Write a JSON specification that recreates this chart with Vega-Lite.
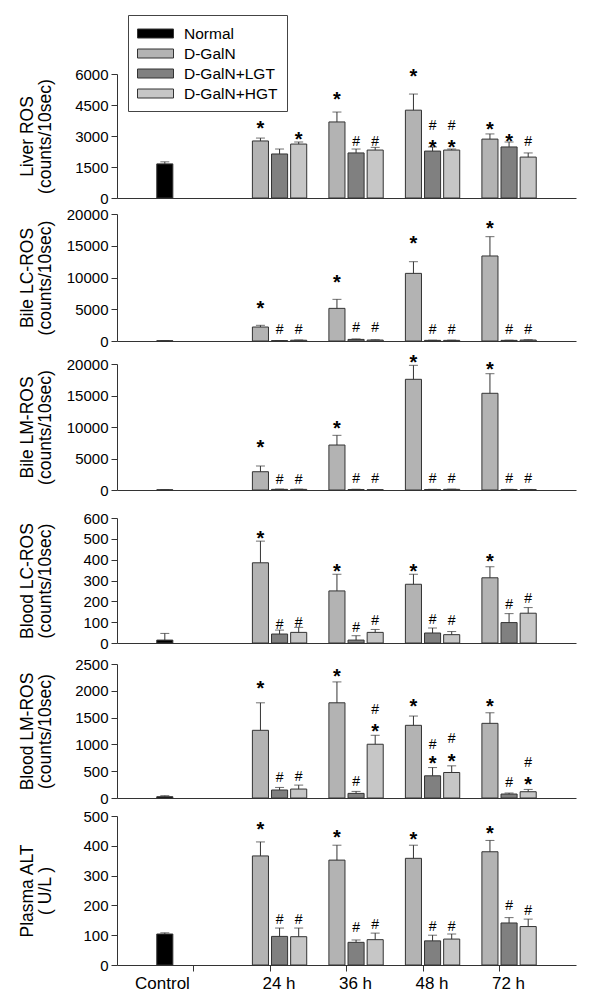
{
  "$schema": "https://vega.github.io/schema/vega-lite/v6.json",
  "padding": {"left": 18, "top": 14, "right": 5, "bottom": 5},
  "config": {
    "font": "Liberation Sans",
    "view": {"stroke": null},
    "axis": {"labelFont": "Liberation Sans", "titleFont": "Liberation Sans", "labelColor": "black", "titleColor": "black", "domainColor": "#333", "tickColor": "#333", "grid": false},
    "axisY": {"titleX": -85, "titleAngle": -90, "titleBaseline": "alphabetic", "titleAlign": "center", "titleLineHeight": 18, "titleFontSize": 17.5, "titleFontWeight": "normal", "tickSize": 6, "labelPadding": 3, "labelFontSize": 15, "format": "d", "labelOverlap": false, "labelBound": false}
  },
  "datasets": {
    "bars": [
      {"panel": "liver", "time": "Control", "group": "Normal", "mean": 1650, "upper": 1750},
      {"panel": "liver", "time": "24 h", "group": "D-GalN", "mean": 2760, "upper": 2900},
      {"panel": "liver", "time": "24 h", "group": "D-GalN+LGT", "mean": 2130, "upper": 2370},
      {"panel": "liver", "time": "24 h", "group": "D-GalN+HGT", "mean": 2610, "upper": 2710},
      {"panel": "liver", "time": "36 h", "group": "D-GalN", "mean": 3680, "upper": 4160},
      {"panel": "liver", "time": "36 h", "group": "D-GalN+LGT", "mean": 2180, "upper": 2370},
      {"panel": "liver", "time": "36 h", "group": "D-GalN+HGT", "mean": 2320, "upper": 2450},
      {"panel": "liver", "time": "48 h", "group": "D-GalN", "mean": 4250, "upper": 5030},
      {"panel": "liver", "time": "48 h", "group": "D-GalN+LGT", "mean": 2270, "upper": 2470},
      {"panel": "liver", "time": "48 h", "group": "D-GalN+HGT", "mean": 2320, "upper": 2370},
      {"panel": "liver", "time": "72 h", "group": "D-GalN", "mean": 2850, "upper": 3100},
      {"panel": "liver", "time": "72 h", "group": "D-GalN+LGT", "mean": 2470, "upper": 2710},
      {"panel": "liver", "time": "72 h", "group": "D-GalN+HGT", "mean": 1980, "upper": 2180},

      {"panel": "bile_lc", "time": "Control", "group": "Normal", "mean": 40, "upper": 60},
      {"panel": "bile_lc", "time": "24 h", "group": "D-GalN", "mean": 2200, "upper": 2470},
      {"panel": "bile_lc", "time": "24 h", "group": "D-GalN+LGT", "mean": 60, "upper": 80},
      {"panel": "bile_lc", "time": "24 h", "group": "D-GalN+HGT", "mean": 120, "upper": 160},
      {"panel": "bile_lc", "time": "36 h", "group": "D-GalN", "mean": 5140, "upper": 6560},
      {"panel": "bile_lc", "time": "36 h", "group": "D-GalN+LGT", "mean": 250, "upper": 330},
      {"panel": "bile_lc", "time": "36 h", "group": "D-GalN+HGT", "mean": 150, "upper": 200},
      {"panel": "bile_lc", "time": "48 h", "group": "D-GalN", "mean": 10650, "upper": 12490},
      {"panel": "bile_lc", "time": "48 h", "group": "D-GalN+LGT", "mean": 100, "upper": 130},
      {"panel": "bile_lc", "time": "48 h", "group": "D-GalN+HGT", "mean": 100, "upper": 140},
      {"panel": "bile_lc", "time": "72 h", "group": "D-GalN", "mean": 13390, "upper": 16430},
      {"panel": "bile_lc", "time": "72 h", "group": "D-GalN+LGT", "mean": 100, "upper": 130},
      {"panel": "bile_lc", "time": "72 h", "group": "D-GalN+HGT", "mean": 150, "upper": 200},

      {"panel": "bile_lm", "time": "Control", "group": "Normal", "mean": 30, "upper": 50},
      {"panel": "bile_lm", "time": "24 h", "group": "D-GalN", "mean": 2900, "upper": 3810},
      {"panel": "bile_lm", "time": "24 h", "group": "D-GalN+LGT", "mean": 100, "upper": 150},
      {"panel": "bile_lm", "time": "24 h", "group": "D-GalN+HGT", "mean": 100, "upper": 140},
      {"panel": "bile_lm", "time": "36 h", "group": "D-GalN", "mean": 7140, "upper": 8680},
      {"panel": "bile_lm", "time": "36 h", "group": "D-GalN+LGT", "mean": 80, "upper": 120},
      {"panel": "bile_lm", "time": "36 h", "group": "D-GalN+HGT", "mean": 50, "upper": 80},
      {"panel": "bile_lm", "time": "48 h", "group": "D-GalN", "mean": 17570, "upper": 19790},
      {"panel": "bile_lm", "time": "48 h", "group": "D-GalN+LGT", "mean": 80, "upper": 110},
      {"panel": "bile_lm", "time": "48 h", "group": "D-GalN+HGT", "mean": 100, "upper": 140},
      {"panel": "bile_lm", "time": "72 h", "group": "D-GalN", "mean": 15350, "upper": 18460},
      {"panel": "bile_lm", "time": "72 h", "group": "D-GalN+LGT", "mean": 80, "upper": 110},
      {"panel": "bile_lm", "time": "72 h", "group": "D-GalN+HGT", "mean": 60, "upper": 90},

      {"panel": "blood_lc", "time": "Control", "group": "Normal", "mean": 14, "upper": 46},
      {"panel": "blood_lc", "time": "24 h", "group": "D-GalN", "mean": 385, "upper": 489},
      {"panel": "blood_lc", "time": "24 h", "group": "D-GalN+LGT", "mean": 43, "upper": 62},
      {"panel": "blood_lc", "time": "24 h", "group": "D-GalN+HGT", "mean": 51, "upper": 75},
      {"panel": "blood_lc", "time": "36 h", "group": "D-GalN", "mean": 250, "upper": 330},
      {"panel": "blood_lc", "time": "36 h", "group": "D-GalN+LGT", "mean": 14, "upper": 35},
      {"panel": "blood_lc", "time": "36 h", "group": "D-GalN+HGT", "mean": 51, "upper": 65},
      {"panel": "blood_lc", "time": "48 h", "group": "D-GalN", "mean": 282, "upper": 330},
      {"panel": "blood_lc", "time": "48 h", "group": "D-GalN+LGT", "mean": 48, "upper": 72},
      {"panel": "blood_lc", "time": "48 h", "group": "D-GalN+HGT", "mean": 40, "upper": 55},
      {"panel": "blood_lc", "time": "72 h", "group": "D-GalN", "mean": 313, "upper": 366},
      {"panel": "blood_lc", "time": "72 h", "group": "D-GalN+LGT", "mean": 98, "upper": 141},
      {"panel": "blood_lc", "time": "72 h", "group": "D-GalN+HGT", "mean": 143, "upper": 170},

      {"panel": "blood_lm", "time": "Control", "group": "Normal", "mean": 24, "upper": 43},
      {"panel": "blood_lm", "time": "24 h", "group": "D-GalN", "mean": 1263, "upper": 1776},
      {"panel": "blood_lm", "time": "24 h", "group": "D-GalN+LGT", "mean": 149, "upper": 197},
      {"panel": "blood_lm", "time": "24 h", "group": "D-GalN+HGT", "mean": 167, "upper": 241},
      {"panel": "blood_lm", "time": "36 h", "group": "D-GalN", "mean": 1776, "upper": 2166},
      {"panel": "blood_lm", "time": "36 h", "group": "D-GalN+LGT", "mean": 86, "upper": 123},
      {"panel": "blood_lm", "time": "36 h", "group": "D-GalN+HGT", "mean": 1003, "upper": 1170},
      {"panel": "blood_lm", "time": "48 h", "group": "D-GalN", "mean": 1356, "upper": 1529},
      {"panel": "blood_lm", "time": "48 h", "group": "D-GalN+LGT", "mean": 414, "upper": 568},
      {"panel": "blood_lm", "time": "48 h", "group": "D-GalN+HGT", "mean": 476, "upper": 600},
      {"panel": "blood_lm", "time": "72 h", "group": "D-GalN", "mean": 1393, "upper": 1590},
      {"panel": "blood_lm", "time": "72 h", "group": "D-GalN+LGT", "mean": 74, "upper": 93},
      {"panel": "blood_lm", "time": "72 h", "group": "D-GalN+HGT", "mean": 117, "upper": 160},

      {"panel": "alt", "time": "Control", "group": "Normal", "mean": 104, "upper": 108},
      {"panel": "alt", "time": "24 h", "group": "D-GalN", "mean": 366, "upper": 413},
      {"panel": "alt", "time": "24 h", "group": "D-GalN+LGT", "mean": 96, "upper": 124},
      {"panel": "alt", "time": "24 h", "group": "D-GalN+HGT", "mean": 95, "upper": 124},
      {"panel": "alt", "time": "36 h", "group": "D-GalN", "mean": 352, "upper": 402},
      {"panel": "alt", "time": "36 h", "group": "D-GalN+LGT", "mean": 76, "upper": 84},
      {"panel": "alt", "time": "36 h", "group": "D-GalN+HGT", "mean": 85, "upper": 107},
      {"panel": "alt", "time": "48 h", "group": "D-GalN", "mean": 358, "upper": 402},
      {"panel": "alt", "time": "48 h", "group": "D-GalN+LGT", "mean": 81, "upper": 100},
      {"panel": "alt", "time": "48 h", "group": "D-GalN+HGT", "mean": 87, "upper": 104},
      {"panel": "alt", "time": "72 h", "group": "D-GalN", "mean": 380, "upper": 418},
      {"panel": "alt", "time": "72 h", "group": "D-GalN+LGT", "mean": 141, "upper": 159},
      {"panel": "alt", "time": "72 h", "group": "D-GalN+HGT", "mean": 129, "upper": 154}
    ],
    "ann": [
      {"panel": "liver", "time": "24 h", "group": "D-GalN", "sym": "*", "y": 3629},
      {"panel": "liver", "time": "24 h", "group": "D-GalN+HGT", "sym": "*", "y": 3097},
      {"panel": "liver", "time": "36 h", "group": "D-GalN", "sym": "*", "y": 5032},
      {"panel": "liver", "time": "36 h", "group": "D-GalN+LGT", "sym": "#", "y": 2758},
      {"panel": "liver", "time": "36 h", "group": "D-GalN+HGT", "sym": "#", "y": 2758},
      {"panel": "liver", "time": "48 h", "group": "D-GalN", "sym": "*", "y": 6144},
      {"panel": "liver", "time": "48 h", "group": "D-GalN+LGT", "sym": "*", "y": 2710},
      {"panel": "liver", "time": "48 h", "group": "D-GalN+LGT", "sym": "#", "y": 3532},
      {"panel": "liver", "time": "48 h", "group": "D-GalN+HGT", "sym": "*", "y": 2724},
      {"panel": "liver", "time": "48 h", "group": "D-GalN+HGT", "sym": "#", "y": 3532},
      {"panel": "liver", "time": "72 h", "group": "D-GalN", "sym": "*", "y": 3581},
      {"panel": "liver", "time": "72 h", "group": "D-GalN+LGT", "sym": "*", "y": 3000},
      {"panel": "liver", "time": "72 h", "group": "D-GalN+HGT", "sym": "#", "y": 2758},

      {"panel": "bile_lc", "time": "24 h", "group": "D-GalN", "sym": "*", "y": 5984},
      {"panel": "bile_lc", "time": "24 h", "group": "D-GalN+LGT", "sym": "#", "y": 1950},
      {"panel": "bile_lc", "time": "24 h", "group": "D-GalN+HGT", "sym": "#", "y": 1950},
      {"panel": "bile_lc", "time": "36 h", "group": "D-GalN", "sym": "*", "y": 10079},
      {"panel": "bile_lc", "time": "36 h", "group": "D-GalN+LGT", "sym": "#", "y": 2200},
      {"panel": "bile_lc", "time": "36 h", "group": "D-GalN+HGT", "sym": "#", "y": 2200},
      {"panel": "bile_lc", "time": "48 h", "group": "D-GalN", "sym": "*", "y": 16268},
      {"panel": "bile_lc", "time": "48 h", "group": "D-GalN+LGT", "sym": "#", "y": 1950},
      {"panel": "bile_lc", "time": "48 h", "group": "D-GalN+HGT", "sym": "#", "y": 1950},
      {"panel": "bile_lc", "time": "72 h", "group": "D-GalN", "sym": "*", "y": 18583},
      {"panel": "bile_lc", "time": "72 h", "group": "D-GalN+LGT", "sym": "#", "y": 1950},
      {"panel": "bile_lc", "time": "72 h", "group": "D-GalN+HGT", "sym": "#", "y": 1950},

      {"panel": "bile_lm", "time": "24 h", "group": "D-GalN", "sym": "*", "y": 7667},
      {"panel": "bile_lm", "time": "24 h", "group": "D-GalN+LGT", "sym": "#", "y": 1700},
      {"panel": "bile_lm", "time": "24 h", "group": "D-GalN+HGT", "sym": "#", "y": 1700},
      {"panel": "bile_lm", "time": "36 h", "group": "D-GalN", "sym": "*", "y": 10683},
      {"panel": "bile_lm", "time": "36 h", "group": "D-GalN+LGT", "sym": "#", "y": 1850},
      {"panel": "bile_lm", "time": "36 h", "group": "D-GalN+HGT", "sym": "#", "y": 1850},
      {"panel": "bile_lm", "time": "48 h", "group": "D-GalN", "sym": "*", "y": 21111},
      {"panel": "bile_lm", "time": "48 h", "group": "D-GalN+LGT", "sym": "#", "y": 1850},
      {"panel": "bile_lm", "time": "48 h", "group": "D-GalN+HGT", "sym": "#", "y": 1850},
      {"panel": "bile_lm", "time": "72 h", "group": "D-GalN", "sym": "*", "y": 20048},
      {"panel": "bile_lm", "time": "72 h", "group": "D-GalN+LGT", "sym": "#", "y": 1850},
      {"panel": "bile_lm", "time": "72 h", "group": "D-GalN+HGT", "sym": "#", "y": 1850},

      {"panel": "blood_lc", "time": "24 h", "group": "D-GalN", "sym": "*", "y": 526},
      {"panel": "blood_lc", "time": "24 h", "group": "D-GalN+LGT", "sym": "#", "y": 91},
      {"panel": "blood_lc", "time": "24 h", "group": "D-GalN+HGT", "sym": "#", "y": 103},
      {"panel": "blood_lc", "time": "36 h", "group": "D-GalN", "sym": "*", "y": 369},
      {"panel": "blood_lc", "time": "36 h", "group": "D-GalN+LGT", "sym": "#", "y": 75},
      {"panel": "blood_lc", "time": "36 h", "group": "D-GalN+HGT", "sym": "#", "y": 110},
      {"panel": "blood_lc", "time": "48 h", "group": "D-GalN", "sym": "*", "y": 369},
      {"panel": "blood_lc", "time": "48 h", "group": "D-GalN+LGT", "sym": "#", "y": 115},
      {"panel": "blood_lc", "time": "48 h", "group": "D-GalN+HGT", "sym": "#", "y": 110},
      {"panel": "blood_lc", "time": "72 h", "group": "D-GalN", "sym": "*", "y": 417},
      {"panel": "blood_lc", "time": "72 h", "group": "D-GalN+LGT", "sym": "#", "y": 186},
      {"panel": "blood_lc", "time": "72 h", "group": "D-GalN+HGT", "sym": "#", "y": 215},

      {"panel": "blood_lm", "time": "24 h", "group": "D-GalN", "sym": "*", "y": 2147},
      {"panel": "blood_lm", "time": "24 h", "group": "D-GalN+LGT", "sym": "#", "y": 383},
      {"panel": "blood_lm", "time": "24 h", "group": "D-GalN+HGT", "sym": "#", "y": 414},
      {"panel": "blood_lm", "time": "36 h", "group": "D-GalN", "sym": "*", "y": 2364},
      {"panel": "blood_lm", "time": "36 h", "group": "D-GalN+LGT", "sym": "#", "y": 321},
      {"panel": "blood_lm", "time": "36 h", "group": "D-GalN+HGT", "sym": "*", "y": 1343},
      {"panel": "blood_lm", "time": "36 h", "group": "D-GalN+HGT", "sym": "#", "y": 1653},
      {"panel": "blood_lm", "time": "48 h", "group": "D-GalN", "sym": "*", "y": 1807},
      {"panel": "blood_lm", "time": "48 h", "group": "D-GalN+LGT", "sym": "*", "y": 743},
      {"panel": "blood_lm", "time": "48 h", "group": "D-GalN+LGT", "sym": "#", "y": 1003},
      {"panel": "blood_lm", "time": "48 h", "group": "D-GalN+HGT", "sym": "*", "y": 786},
      {"panel": "blood_lm", "time": "48 h", "group": "D-GalN+HGT", "sym": "#", "y": 1126},
      {"panel": "blood_lm", "time": "72 h", "group": "D-GalN", "sym": "*", "y": 1807},
      {"panel": "blood_lm", "time": "72 h", "group": "D-GalN+LGT", "sym": "#", "y": 290},
      {"panel": "blood_lm", "time": "72 h", "group": "D-GalN+HGT", "sym": "*", "y": 353},
      {"panel": "blood_lm", "time": "72 h", "group": "D-GalN+HGT", "sym": "#", "y": 680},

      {"panel": "alt", "time": "24 h", "group": "D-GalN", "sym": "*", "y": 472},
      {"panel": "alt", "time": "24 h", "group": "D-GalN+LGT", "sym": "#", "y": 154},
      {"panel": "alt", "time": "24 h", "group": "D-GalN+HGT", "sym": "#", "y": 154},
      {"panel": "alt", "time": "36 h", "group": "D-GalN", "sym": "*", "y": 447},
      {"panel": "alt", "time": "36 h", "group": "D-GalN+LGT", "sym": "#", "y": 126},
      {"panel": "alt", "time": "36 h", "group": "D-GalN+HGT", "sym": "#", "y": 137},
      {"panel": "alt", "time": "48 h", "group": "D-GalN", "sym": "*", "y": 441},
      {"panel": "alt", "time": "48 h", "group": "D-GalN+LGT", "sym": "#", "y": 132},
      {"panel": "alt", "time": "48 h", "group": "D-GalN+HGT", "sym": "#", "y": 132},
      {"panel": "alt", "time": "72 h", "group": "D-GalN", "sym": "*", "y": 461},
      {"panel": "alt", "time": "72 h", "group": "D-GalN+LGT", "sym": "#", "y": 201},
      {"panel": "alt", "time": "72 h", "group": "D-GalN+HGT", "sym": "#", "y": 185}
    ]
  },
  "bounds": "flush",
  "spacing": 16,
  "resolve": {"scale": {"fill": "independent"}, "legend": {"fill": "independent"}},
  "vconcat": [
    {
      "width": 459, "height": 124,
      "encoding": {
        "x": {"field": "time", "type": "nominal", "sort": null, "scale": {"domain": ["Control", "24 h", "36 h", "48 h", "72 h"], "paddingInner": 0, "paddingOuter": 0.5}, "axis": {"labels": false, "ticks": false, "title": null}},
        "xOffset": {"field": "group", "type": "nominal", "sort": null, "scale": {"domain": ["Normal", "D-GalN", "D-GalN+LGT", "D-GalN+HGT"], "paddingInner": 0.16, "paddingOuter": 0.08}}
      },
      "layer": [
        {"data": {"name": "bars"}, "transform": [{"filter": "datum.panel === 'liver'"}],
         "mark": {"type": "bar", "stroke": "#333", "strokeWidth": 1},
         "encoding": {
           "y": {"field": "mean", "type": "quantitative", "scale": {"domain": [0, 6000], "nice": false}, "axis": {"values": [0, 1500, 3000, 4500, 6000], "title": ["Liver ROS", "(counts/10sec)"]}},
           "fill": {"field": "group", "type": "nominal", "sort": null, "scale": {"domain": ["Normal", "D-GalN", "D-GalN+LGT", "D-GalN+HGT"], "range": ["#000000", "#b3b3b3", "#808080", "#c6c6c6"]},
             "legend": {"orient": "none", "legendX": 11, "legendY": -59, "title": null, "strokeColor": "#444", "fillColor": "white", "padding": 9, "rowPadding": 2, "symbolType": "M-1,-0.5H3V0.5H-1Z", "symbolSize": 324, "symbolStrokeColor": "#333", "symbolStrokeWidth": 1, "labelFontSize": 15.5, "labelOffset": 28, "labelFont": "Liberation Sans", "labelColor": "black"}}
         }},
        {"data": {"name": "bars"}, "transform": [{"filter": "datum.panel === 'liver'"}],
         "mark": {"type": "rule", "color": "#333", "strokeWidth": 1},
         "encoding": {"y": {"field": "mean", "type": "quantitative", "axis": {"values": [0, 1500, 3000, 4500, 6000], "title": ["Liver ROS", "(counts/10sec)"]}}, "y2": {"field": "upper"}}},
        {"data": {"name": "bars"}, "transform": [{"filter": "datum.panel === 'liver'"}],
         "mark": {"type": "tick", "color": "#333", "size": 9, "thickness": 1},
         "encoding": {"y": {"field": "upper", "type": "quantitative", "axis": {"values": [0, 1500, 3000, 4500, 6000], "title": ["Liver ROS", "(counts/10sec)"]}}}},
        {"data": {"name": "ann"}, "transform": [{"filter": "datum.panel === 'liver' && datum.sym === '*'"}],
         "mark": {"type": "text", "fontSize": 20, "fontWeight": "bold", "baseline": "middle", "dy": 6, "color": "black"},
         "encoding": {"y": {"field": "y", "type": "quantitative", "axis": {"values": [0, 1500, 3000, 4500, 6000], "title": ["Liver ROS", "(counts/10sec)"]}}, "text": {"field": "sym"}}},
        {"data": {"name": "ann"}, "transform": [{"filter": "datum.panel === 'liver' && datum.sym === '#'"}],
         "mark": {"type": "text", "fontSize": 14, "baseline": "middle", "dy": 1, "color": "black"},
         "encoding": {"y": {"field": "y", "type": "quantitative", "axis": {"values": [0, 1500, 3000, 4500, 6000], "title": ["Liver ROS", "(counts/10sec)"]}}, "text": {"field": "sym"}}}
      ]
    },
    {
      "width": 459, "height": 127,
      "encoding": {
        "x": {"field": "time", "type": "nominal", "sort": null, "scale": {"domain": ["Control", "24 h", "36 h", "48 h", "72 h"], "paddingInner": 0, "paddingOuter": 0.5}, "axis": {"labels": false, "ticks": false, "title": null}},
        "xOffset": {"field": "group", "type": "nominal", "sort": null, "scale": {"domain": ["Normal", "D-GalN", "D-GalN+LGT", "D-GalN+HGT"], "paddingInner": 0.16, "paddingOuter": 0.08}}
      },
      "layer": [
        {"data": {"name": "bars"}, "transform": [{"filter": "datum.panel === 'bile_lc'"}],
         "mark": {"type": "bar", "stroke": "#333", "strokeWidth": 1},
         "encoding": {
           "y": {"field": "mean", "type": "quantitative", "scale": {"domain": [0, 20000], "nice": false}, "axis": {"values": [0, 5000, 10000, 15000, 20000], "title": ["Bile LC-ROS", "(counts/10sec)"]}},
           "fill": {"field": "group", "type": "nominal", "sort": null, "scale": {"domain": ["Normal", "D-GalN", "D-GalN+LGT", "D-GalN+HGT"], "range": ["#000000", "#b3b3b3", "#808080", "#c6c6c6"]}, "legend": null}
         }},
        {"data": {"name": "bars"}, "transform": [{"filter": "datum.panel === 'bile_lc'"}],
         "mark": {"type": "rule", "color": "#333", "strokeWidth": 1},
         "encoding": {"y": {"field": "mean", "type": "quantitative", "axis": {"values": [0, 5000, 10000, 15000, 20000], "title": ["Bile LC-ROS", "(counts/10sec)"]}}, "y2": {"field": "upper"}}},
        {"data": {"name": "bars"}, "transform": [{"filter": "datum.panel === 'bile_lc'"}],
         "mark": {"type": "tick", "color": "#333", "size": 9, "thickness": 1},
         "encoding": {"y": {"field": "upper", "type": "quantitative", "axis": {"values": [0, 5000, 10000, 15000, 20000], "title": ["Bile LC-ROS", "(counts/10sec)"]}}}},
        {"data": {"name": "ann"}, "transform": [{"filter": "datum.panel === 'bile_lc' && datum.sym === '*'"}],
         "mark": {"type": "text", "fontSize": 20, "fontWeight": "bold", "baseline": "middle", "dy": 6, "color": "black"},
         "encoding": {"y": {"field": "y", "type": "quantitative", "axis": {"values": [0, 5000, 10000, 15000, 20000], "title": ["Bile LC-ROS", "(counts/10sec)"]}}, "text": {"field": "sym"}}},
        {"data": {"name": "ann"}, "transform": [{"filter": "datum.panel === 'bile_lc' && datum.sym === '#'"}],
         "mark": {"type": "text", "fontSize": 14, "baseline": "middle", "dy": 1, "color": "black"},
         "encoding": {"y": {"field": "y", "type": "quantitative", "axis": {"values": [0, 5000, 10000, 15000, 20000], "title": ["Bile LC-ROS", "(counts/10sec)"]}}, "text": {"field": "sym"}}}
      ]
    },
    {
      "width": 459, "height": 133,
      "encoding": {
        "x": {"field": "time", "type": "nominal", "sort": null, "scale": {"domain": ["Control", "24 h", "36 h", "48 h", "72 h"], "paddingInner": 0, "paddingOuter": 0.5}, "axis": {"labels": false, "ticks": false, "title": null}},
        "xOffset": {"field": "group", "type": "nominal", "sort": null, "scale": {"domain": ["Normal", "D-GalN", "D-GalN+LGT", "D-GalN+HGT"], "paddingInner": 0.16, "paddingOuter": 0.08}}
      },
      "layer": [
        {"data": {"name": "bars"}, "transform": [{"filter": "datum.panel === 'bile_lm'"}],
         "mark": {"type": "bar", "stroke": "#333", "strokeWidth": 1},
         "encoding": {
           "y": {"field": "mean", "type": "quantitative", "scale": {"domain": [0, 20000], "nice": false, "range": [133, 7]}, "axis": {"values": [0, 5000, 10000, 15000, 20000], "title": ["Bile LM-ROS", "(counts/10sec)"]}},
           "fill": {"field": "group", "type": "nominal", "sort": null, "scale": {"domain": ["Normal", "D-GalN", "D-GalN+LGT", "D-GalN+HGT"], "range": ["#000000", "#b3b3b3", "#808080", "#c6c6c6"]}, "legend": null}
         }},
        {"data": {"name": "bars"}, "transform": [{"filter": "datum.panel === 'bile_lm'"}],
         "mark": {"type": "rule", "color": "#333", "strokeWidth": 1},
         "encoding": {"y": {"field": "mean", "type": "quantitative", "axis": {"values": [0, 5000, 10000, 15000, 20000], "title": ["Bile LM-ROS", "(counts/10sec)"]}}, "y2": {"field": "upper"}}},
        {"data": {"name": "bars"}, "transform": [{"filter": "datum.panel === 'bile_lm'"}],
         "mark": {"type": "tick", "color": "#333", "size": 9, "thickness": 1},
         "encoding": {"y": {"field": "upper", "type": "quantitative", "axis": {"values": [0, 5000, 10000, 15000, 20000], "title": ["Bile LM-ROS", "(counts/10sec)"]}}}},
        {"data": {"name": "ann"}, "transform": [{"filter": "datum.panel === 'bile_lm' && datum.sym === '*'"}],
         "mark": {"type": "text", "fontSize": 20, "fontWeight": "bold", "baseline": "middle", "dy": 6, "color": "black"},
         "encoding": {"y": {"field": "y", "type": "quantitative", "axis": {"values": [0, 5000, 10000, 15000, 20000], "title": ["Bile LM-ROS", "(counts/10sec)"]}}, "text": {"field": "sym"}}},
        {"data": {"name": "ann"}, "transform": [{"filter": "datum.panel === 'bile_lm' && datum.sym === '#'"}],
         "mark": {"type": "text", "fontSize": 14, "baseline": "middle", "dy": 1, "color": "black"},
         "encoding": {"y": {"field": "y", "type": "quantitative", "axis": {"values": [0, 5000, 10000, 15000, 20000], "title": ["Bile LM-ROS", "(counts/10sec)"]}}, "text": {"field": "sym"}}}
      ]
    },
    {
      "width": 459, "height": 137,
      "encoding": {
        "x": {"field": "time", "type": "nominal", "sort": null, "scale": {"domain": ["Control", "24 h", "36 h", "48 h", "72 h"], "paddingInner": 0, "paddingOuter": 0.5}, "axis": {"labels": false, "ticks": false, "title": null}},
        "xOffset": {"field": "group", "type": "nominal", "sort": null, "scale": {"domain": ["Normal", "D-GalN", "D-GalN+LGT", "D-GalN+HGT"], "paddingInner": 0.16, "paddingOuter": 0.08}}
      },
      "layer": [
        {"data": {"name": "bars"}, "transform": [{"filter": "datum.panel === 'blood_lc'"}],
         "mark": {"type": "bar", "stroke": "#333", "strokeWidth": 1},
         "encoding": {
           "y": {"field": "mean", "type": "quantitative", "scale": {"domain": [0, 600], "nice": false, "range": [137, 12]}, "axis": {"values": [0, 100, 200, 300, 400, 500, 600], "title": ["Blood LC-ROS", "(counts/10sec)"]}},
           "fill": {"field": "group", "type": "nominal", "sort": null, "scale": {"domain": ["Normal", "D-GalN", "D-GalN+LGT", "D-GalN+HGT"], "range": ["#000000", "#b3b3b3", "#808080", "#c6c6c6"]}, "legend": null}
         }},
        {"data": {"name": "bars"}, "transform": [{"filter": "datum.panel === 'blood_lc'"}],
         "mark": {"type": "rule", "color": "#333", "strokeWidth": 1},
         "encoding": {"y": {"field": "mean", "type": "quantitative", "axis": {"values": [0, 100, 200, 300, 400, 500, 600], "title": ["Blood LC-ROS", "(counts/10sec)"]}}, "y2": {"field": "upper"}}},
        {"data": {"name": "bars"}, "transform": [{"filter": "datum.panel === 'blood_lc'"}],
         "mark": {"type": "tick", "color": "#333", "size": 9, "thickness": 1},
         "encoding": {"y": {"field": "upper", "type": "quantitative", "axis": {"values": [0, 100, 200, 300, 400, 500, 600], "title": ["Blood LC-ROS", "(counts/10sec)"]}}}},
        {"data": {"name": "ann"}, "transform": [{"filter": "datum.panel === 'blood_lc' && datum.sym === '*'"}],
         "mark": {"type": "text", "fontSize": 20, "fontWeight": "bold", "baseline": "middle", "dy": 6, "color": "black"},
         "encoding": {"y": {"field": "y", "type": "quantitative", "axis": {"values": [0, 100, 200, 300, 400, 500, 600], "title": ["Blood LC-ROS", "(counts/10sec)"]}}, "text": {"field": "sym"}}},
        {"data": {"name": "ann"}, "transform": [{"filter": "datum.panel === 'blood_lc' && datum.sym === '#'"}],
         "mark": {"type": "text", "fontSize": 14, "baseline": "middle", "dy": 1, "color": "black"},
         "encoding": {"y": {"field": "y", "type": "quantitative", "axis": {"values": [0, 100, 200, 300, 400, 500, 600], "title": ["Blood LC-ROS", "(counts/10sec)"]}}, "text": {"field": "sym"}}}
      ]
    },
    {
      "width": 459, "height": 139,
      "encoding": {
        "x": {"field": "time", "type": "nominal", "sort": null, "scale": {"domain": ["Control", "24 h", "36 h", "48 h", "72 h"], "paddingInner": 0, "paddingOuter": 0.5}, "axis": {"labels": false, "ticks": false, "title": null}},
        "xOffset": {"field": "group", "type": "nominal", "sort": null, "scale": {"domain": ["Normal", "D-GalN", "D-GalN+LGT", "D-GalN+HGT"], "paddingInner": 0.16, "paddingOuter": 0.08}}
      },
      "layer": [
        {"data": {"name": "bars"}, "transform": [{"filter": "datum.panel === 'blood_lm'"}],
         "mark": {"type": "bar", "stroke": "#333", "strokeWidth": 1},
         "encoding": {
           "y": {"field": "mean", "type": "quantitative", "scale": {"domain": [0, 2500], "nice": false, "range": [139, 5]}, "axis": {"values": [0, 500, 1000, 1500, 2000, 2500], "title": ["Blood LM-ROS", "(counts/10sec)"]}},
           "fill": {"field": "group", "type": "nominal", "sort": null, "scale": {"domain": ["Normal", "D-GalN", "D-GalN+LGT", "D-GalN+HGT"], "range": ["#000000", "#b3b3b3", "#808080", "#c6c6c6"]}, "legend": null}
         }},
        {"data": {"name": "bars"}, "transform": [{"filter": "datum.panel === 'blood_lm'"}],
         "mark": {"type": "rule", "color": "#333", "strokeWidth": 1},
         "encoding": {"y": {"field": "mean", "type": "quantitative", "axis": {"values": [0, 500, 1000, 1500, 2000, 2500], "title": ["Blood LM-ROS", "(counts/10sec)"]}}, "y2": {"field": "upper"}}},
        {"data": {"name": "bars"}, "transform": [{"filter": "datum.panel === 'blood_lm'"}],
         "mark": {"type": "tick", "color": "#333", "size": 9, "thickness": 1},
         "encoding": {"y": {"field": "upper", "type": "quantitative", "axis": {"values": [0, 500, 1000, 1500, 2000, 2500], "title": ["Blood LM-ROS", "(counts/10sec)"]}}}},
        {"data": {"name": "ann"}, "transform": [{"filter": "datum.panel === 'blood_lm' && datum.sym === '*'"}],
         "mark": {"type": "text", "fontSize": 20, "fontWeight": "bold", "baseline": "middle", "dy": 6, "color": "black"},
         "encoding": {"y": {"field": "y", "type": "quantitative", "axis": {"values": [0, 500, 1000, 1500, 2000, 2500], "title": ["Blood LM-ROS", "(counts/10sec)"]}}, "text": {"field": "sym"}}},
        {"data": {"name": "ann"}, "transform": [{"filter": "datum.panel === 'blood_lm' && datum.sym === '#'"}],
         "mark": {"type": "text", "fontSize": 14, "baseline": "middle", "dy": 1, "color": "black"},
         "encoding": {"y": {"field": "y", "type": "quantitative", "axis": {"values": [0, 500, 1000, 1500, 2000, 2500], "title": ["Blood LM-ROS", "(counts/10sec)"]}}, "text": {"field": "sym"}}}
      ]
    },
    {
      "width": 459, "height": 151,
      "encoding": {
        "x": {"field": "time", "type": "nominal", "sort": null, "scale": {"domain": ["Control", "24 h", "36 h", "48 h", "72 h"], "paddingInner": 0, "paddingOuter": 0.5},
          "axis": {"title": null, "labelAngle": 0, "labelFontSize": 17, "labelPadding": 4, "tickSize": 6, "labelOffset": {"condition": {"test": "datum.value === 'Control'", "value": -31}, "value": 9}}},
        "xOffset": {"field": "group", "type": "nominal", "sort": null, "scale": {"domain": ["Normal", "D-GalN", "D-GalN+LGT", "D-GalN+HGT"], "paddingInner": 0.16, "paddingOuter": 0.08}}
      },
      "layer": [
        {"data": {"name": "bars"}, "transform": [{"filter": "datum.panel === 'alt'"}],
         "mark": {"type": "bar", "stroke": "#333", "strokeWidth": 1},
         "encoding": {
           "y": {"field": "mean", "type": "quantitative", "scale": {"domain": [0, 500], "nice": false, "range": [151, 2]}, "axis": {"values": [0, 100, 200, 300, 400, 500], "title": ["Plasma ALT", "( U/L )"]}},
           "fill": {"field": "group", "type": "nominal", "sort": null, "scale": {"domain": ["Normal", "D-GalN", "D-GalN+LGT", "D-GalN+HGT"], "range": ["#000000", "#b3b3b3", "#808080", "#c6c6c6"]}, "legend": null}
         }},
        {"data": {"name": "bars"}, "transform": [{"filter": "datum.panel === 'alt'"}],
         "mark": {"type": "rule", "color": "#333", "strokeWidth": 1},
         "encoding": {"y": {"field": "mean", "type": "quantitative", "axis": {"values": [0, 100, 200, 300, 400, 500], "title": ["Plasma ALT", "( U/L )"]}}, "y2": {"field": "upper"}}},
        {"data": {"name": "bars"}, "transform": [{"filter": "datum.panel === 'alt'"}],
         "mark": {"type": "tick", "color": "#333", "size": 9, "thickness": 1},
         "encoding": {"y": {"field": "upper", "type": "quantitative", "axis": {"values": [0, 100, 200, 300, 400, 500], "title": ["Plasma ALT", "( U/L )"]}}}},
        {"data": {"name": "ann"}, "transform": [{"filter": "datum.panel === 'alt' && datum.sym === '*'"}],
         "mark": {"type": "text", "fontSize": 20, "fontWeight": "bold", "baseline": "middle", "dy": 6, "color": "black"},
         "encoding": {"y": {"field": "y", "type": "quantitative", "axis": {"values": [0, 100, 200, 300, 400, 500], "title": ["Plasma ALT", "( U/L )"]}}, "text": {"field": "sym"}}},
        {"data": {"name": "ann"}, "transform": [{"filter": "datum.panel === 'alt' && datum.sym === '#'"}],
         "mark": {"type": "text", "fontSize": 14, "baseline": "middle", "dy": 1, "color": "black"},
         "encoding": {"y": {"field": "y", "type": "quantitative", "axis": {"values": [0, 100, 200, 300, 400, 500], "title": ["Plasma ALT", "( U/L )"]}}, "text": {"field": "sym"}}}
      ]
    }
  ]
}
